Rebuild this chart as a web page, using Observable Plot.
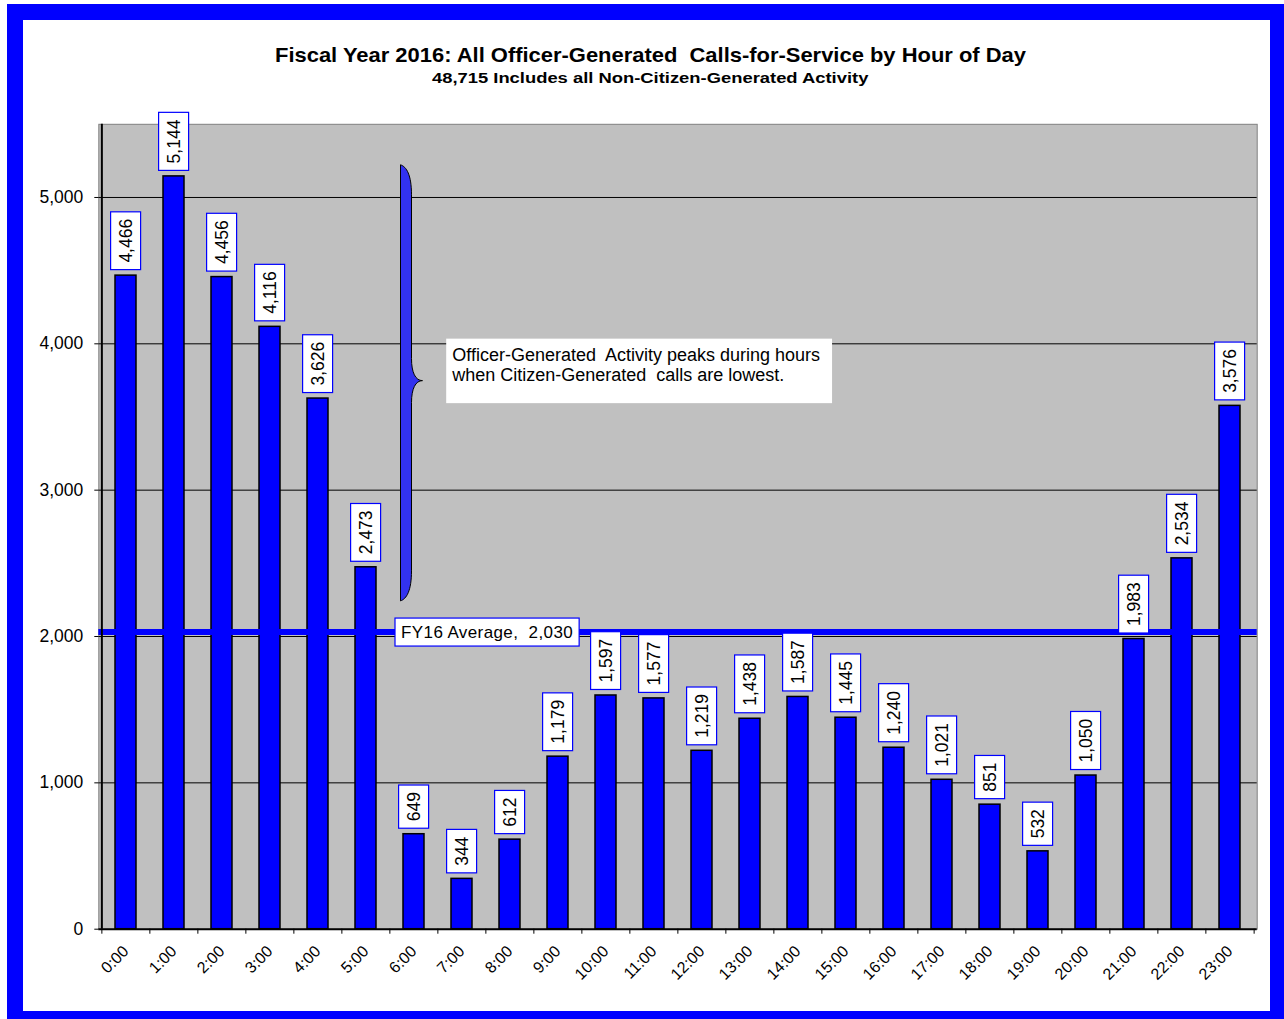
<!DOCTYPE html>
<html><head><meta charset="utf-8">
<script src="https://cdn.jsdelivr.net/npm/d3@7"></script>
<script src="https://cdn.jsdelivr.net/npm/@observablehq/plot@0.6"></script>
<style>
html,body{margin:0;padding:0;background:#fff;}
#wrap{position:relative;width:1284px;height:1019px;overflow:hidden;background:#fff;font-family:"Liberation Sans",Arial,sans-serif;}
#frame{position:absolute;left:7px;top:4px;width:1247px;height:991px;border:16px solid #0000FF;background:#fff;}
.ttl{position:absolute;left:0;width:1300px;text-align:center;font-weight:bold;line-height:1;white-space:pre;color:#000;}
.ttl span{display:inline-block;transform-origin:50% 50%;}
#chart{position:absolute;left:0;top:100px;}
#chart svg text{white-space:pre;}
</style></head>
<body><div id="wrap"><div id="frame"></div>
<div class="ttl" id="t1" style="top:44px;font-size:21px"><span></span></div>
<div class="ttl" id="t2" style="top:71px;font-size:14.5px"><span></span></div>
<div id="chart"></div></div>
<script>
const titleText = "Fiscal Year 2016: All Officer-Generated  Calls-for-Service by Hour of Day";
const subtitleText = "48,715 Includes all Non-Citizen-Generated Activity";
const hours = ["0:00","1:00","2:00","3:00","4:00","5:00","6:00","7:00","8:00","9:00","10:00","11:00","12:00","13:00","14:00","15:00","16:00","17:00","18:00","19:00","20:00","21:00","22:00","23:00"];
const calls = [4466,5144,4456,4116,3626,2473,649,344,612,1179,1597,1577,1219,1438,1587,1445,1240,1021,851,532,1050,1983,2534,3576];
const yTicks = [0,1000,2000,3000,4000,5000];
const yMax = 5500;
const avgValue = 2030;
const avgLabelText = "FY16 Average,  2,030";
const avgLabelHour = "6:00";
const braceHour = "6:00";
const braceSpan = [5220, 2240];
const braceTip = 3745;
const annotHour = "7:00";
const annotY = 3857;
const annotLines = ["Officer-Generated  Activity peaks during hours", "when Citizen-Generated  calls are lowest."];

const data = hours.map((h, i) => ({hour: h, calls: calls[i]}));
const fmt = d3.format(",");

// titles
function setTitle(id, text, targetW) {
  const span = document.querySelector("#" + id + " span");
  span.textContent = text;
  const w = span.offsetWidth;
  span.style.transform = `scaleX(${targetW / w})`;
}
setTitle("t1", titleText, 751);
setTitle("t2", subtitleText, 436);

const W = 1284, H = 919, mL = 98.3, mR = 27.3, mT = 23.8, mB = 90.3;
const step = (W - mL - mR) / hours.length;
const ns = "http://www.w3.org/2000/svg";

function braceMark(index, scales) {
  const x = scales.x, y = scales.y;
  const bw = x.bandwidth ? x.bandwidth() : 0;
  const cx = x(braceHour) + bw / 2;
  const L = cx - 13, R = cx - 2, T = cx + 9;
  const y0 = y(braceSpan[0]), y1 = y(braceSpan[1]), yt = y(braceTip);
  const d = `M${L},${y0} C${L+6},${y0+2} ${R},${y0+10} ${R},${y0+30} L${R},${yt-22} C${R},${yt-8} ${R+4},${yt} ${T},${yt} C${R+4},${yt} ${R},${yt+8} ${R},${yt+22} L${R},${y1-30} C${R},${y1-10} ${L+6},${y1-2} ${L},${y1} Z`;
  const p = document.createElementNS(ns, "path");
  p.setAttribute("d", d);
  p.setAttribute("fill", "#3232F0");
  p.setAttribute("stroke", "#000");
  p.setAttribute("stroke-width", "1");
  return p;
}

const chart = Plot.plot({
  width: W, height: H,
  marginLeft: mL, marginRight: mR, marginTop: mT, marginBottom: mB,
  style: {background: "transparent", fontFamily: "'Liberation Sans', Arial, sans-serif", fontSize: "16px", color: "#000", overflow: "visible"},
  x: {type: "band", domain: hours, paddingInner: 0.57, paddingOuter: 0.285, label: null},
  y: {domain: [0, yMax], label: null},
  marks: [
    Plot.frame({fill: "#C0C0C0", stroke: "#808080"}),
    Plot.ruleY(yTicks.filter(v => v > 0), {stroke: "#000", strokeWidth: 1}),
    Plot.barY(data, {x: "hour", y: "calls", fill: "#0000FF", stroke: "#000", strokeWidth: 1.5}),
    Plot.ruleY([avgValue], {stroke: "#0000FF", strokeWidth: 6}),
    Plot.ruleY([0], {stroke: "#000", strokeWidth: 2}),
    Plot.ruleX([hours[0]], {dx: -step / 2, stroke: "#000", strokeWidth: 2}),
    braceMark,
    Plot.axisY({ticks: yTicks, tickFormat: d => fmt(d), tickSize: 4, tickPadding: 11.5, fontSize: 17.5, stroke: "#000", label: null}),
    Plot.axisX({ticks: hours, tickSize: 5, tickFormat: () => "", dx: -step / 2, stroke: "#000", label: null}),
    Plot.axisX({ticks: [hours[hours.length - 1]], tickSize: 5, tickFormat: () => "", dx: step / 2, stroke: "#000", label: null}),
    Plot.text(hours, {x: d => d, frameAnchor: "bottom", dy: 19.5, rotate: -45, textAnchor: "end", lineAnchor: "middle", fontSize: 16, fill: "#000"}),
    Plot.text(data, {x: "hour", y: "calls", text: d => fmt(d.calls), rotate: -90, textAnchor: "start", lineAnchor: "middle", dy: -13, fontSize: 17.5, fill: "#000"}),
    Plot.text([avgValue], {x: () => avgLabelHour, y: d => d, text: () => avgLabelText, textAnchor: "start", lineAnchor: "middle", dx: -13, fontSize: 17, fill: "#000"}),
    Plot.text([annotY], {x: () => annotHour, y: d => d, text: () => annotLines.join("\n"), textAnchor: "start", lineAnchor: "middle", lineHeight: 20 / 18, dx: -9.8, fontSize: 18, fill: "#000"})
  ]
});
document.getElementById("chart").appendChild(chart);

function boxText(t, pads, stroke) {
  const b = t.getBBox();
  const r = document.createElementNS(ns, "rect");
  r.setAttribute("x", b.x - pads.l);
  r.setAttribute("y", b.y - pads.t);
  r.setAttribute("width", b.width + pads.l + pads.r);
  r.setAttribute("height", b.height + pads.t + pads.b);
  const tr = t.getAttribute("transform");
  if (tr) r.setAttribute("transform", tr);
  r.setAttribute("fill", "#fff");
  r.setAttribute("stroke", stroke || "none");
  r.setAttribute("stroke-width", "1.2");
  t.parentNode.insertBefore(r, t);
}
const valueStrings = new Set(calls.map(fmt));
chart.querySelectorAll("text").forEach(t => {
  const s = t.textContent;
  const tr = t.getAttribute("transform") || "";
  if (tr.includes("rotate(-90)") && valueStrings.has(s)) boxText(t, {l: 7, r: 7, t: 5, b: 5}, "#0000FF");
  else if (s === avgLabelText) { t.style.letterSpacing = "0.4px"; boxText(t, {l: 6, r: 6, t: 4.5, b: 4.5}, "#0000FF"); }
  else if (s.startsWith(annotLines[0])) boxText(t, {l: 5, r: 12, t: 6.5, b: 18}, null);
});
</script>
</body></html>
